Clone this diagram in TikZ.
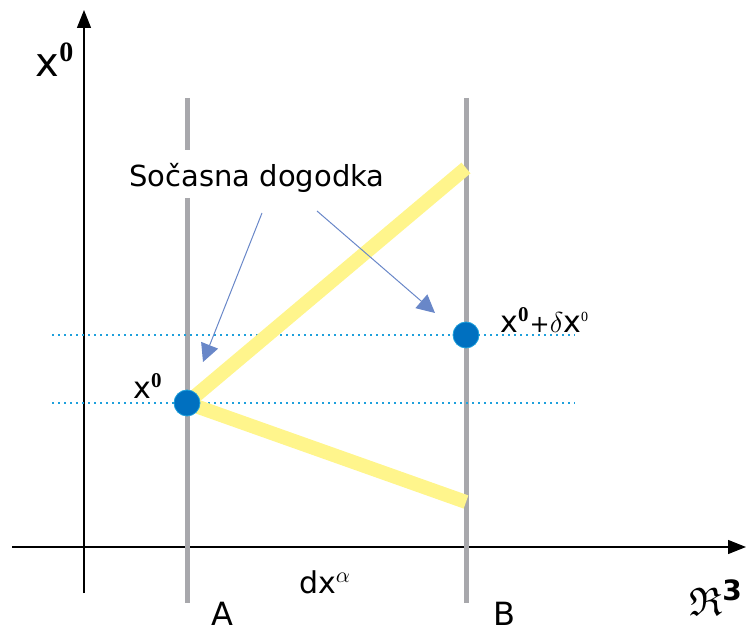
\documentclass[tikz,border=0pt]{standalone}
\usepackage{fontspec}
\usepackage{amsfonts}
\setmainfont{DejaVu Sans}
\newfontfamily\supserif{Liberation Serif}
\usetikzlibrary{arrows.meta}
\definecolor{worldgray}{RGB}{168,168,172}
\definecolor{conyellow}{RGB}{255,245,140}
\definecolor{eventblue}{RGB}{0,112,192}
\definecolor{simblue}{RGB}{30,160,220}
\definecolor{arrowblue}{RGB}{105,135,200}
\newcommand{\zsup}{\textsuperscript{\supserif\bfseries 0}}
\tikzset{
  worldline/.style={worldgray, line width=2.5pt},
  signal/.style={conyellow, line width=7pt},
  simline/.style={simblue, line width=1pt, dotted},
  event/.style={circle, fill=eventblue, draw=simblue, line width=0.4pt, minimum size=13pt, inner sep=0pt},
  pointer/.style={arrowblue, line width=0.5pt, -{Triangle[length=9pt, width=9pt]}},
  axis/.style={line width=0.6pt, -{Triangle[length=9pt, width=7pt]}},
  lbl/.style={font=\fontsize{15}{18}\selectfont}
}
\begin{document}
\begin{tikzpicture}[x=0.5pt, y=-0.5pt]
  \useasboundingbox (0,0) rectangle (746,631);
  % axes
  \draw[axis] (12,547) -- (746,547);
  \draw[axis] (84,593) -- (84,10);
  \node[font=\fontsize{20}{24}\selectfont] (tlab) at (55,60) {x\zsup};
  \node[font=\fontsize{20}{24}\selectfont] (rlab) at (716,598) {$\mathfrak{R}^{\mathbf{3}}$};
  % world lines A and B
  \draw[worldline] (187,98) -- (187,150);
  \draw[worldline] (187,198) -- (187,603);
  \draw[worldline] (466,98) -- (466,603);
  % simultaneity lines
  \draw[simline] (52,335) -- (575,335);
  \draw[simline] (52,403) -- (575,403);
  % events
  \coordinate (evA) at (187,403);
  \coordinate (evB) at (466,335);
  \coordinate (topB) at (466,168);
  \coordinate (lowB) at (466,502);
  \draw[signal] (evA) -- (topB);
  \draw[signal] (evA) -- (lowB);
  \node[event] (dotA) at (evA) {};
  \node[event] (dotB) at (evB) {};
  \node[lbl] (labA) at (148,386) {x\zsup};
  \node[lbl, anchor=west, inner sep=0pt] (labB) at (500,320) {x\zsup{\fontsize{12}{14}\selectfont+}$\delta$x\textsuperscript{\supserif\scriptsize 0}};
  % text and arrows
  \node[font=\fontsize{14.5}{18}\selectfont] (sim) at (257,178) {Sočasna dogodka};
  \coordinate (startA) at (262,213);
  \coordinate (endA) at (203,362);
  \coordinate (startB) at (317,211);
  \coordinate (endB) at (435,313);
  \draw[pointer] (startA) -- (endA);
  \draw[pointer] (startB) -- (endB);
  % bottom labels
  \node[lbl] (dx) at (325,582) {dx$^{\alpha}$};
  \node[font=\fontsize{16}{19}\selectfont] (nA) at (222,614) {A};
  \node[font=\fontsize{16}{19}\selectfont] (nB) at (504,614) {B};
\end{tikzpicture}
\end{document}
